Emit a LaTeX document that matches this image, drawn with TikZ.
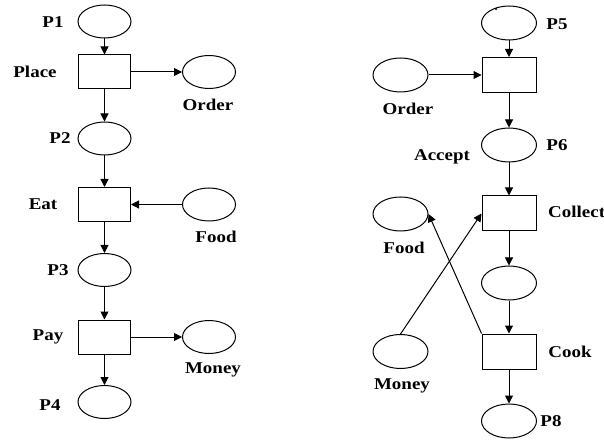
\documentclass[tikz,border=0pt]{standalone}
\usepackage{fontspec}
\setmainfont{Liberation Serif}[FakeStretch=1.15]
\usetikzlibrary{arrows.meta,shapes.geometric}
\tikzset{
  place/.style={draw, ellipse, line width=1pt, minimum width=53pt, minimum height=33pt, inner sep=0pt},
  rplace/.style={place, minimum width=55pt, minimum height=34pt},
  trans/.style={draw, rectangle, line width=1pt, minimum width=52pt, minimum height=34pt, inner sep=0pt},
  rtrans/.style={trans, minimum width=54pt, minimum height=35pt},
  lbl/.style={inner sep=0pt, font=\fontsize{16.5}{18}\selectfont\bfseries},
  arc/.style={line width=1pt, -{Triangle[length=8pt,width=8pt]}},
}
\begin{document}
\begin{tikzpicture}[x=1pt,y=-1pt]
\useasboundingbox (0,0) rectangle (604,443);
% left net
\node[place] (p1) at (104.5,21.5) {};
\node[trans] (place) at (104.5,72) {};
\node[place] (orderL) at (209,72) {};
\node[place] (p2) at (104.5,138.5) {};
\node[trans] (eat) at (104.5,204.5) {};
\node[place] (foodL) at (209,204.5) {};
\node[place] (p3) at (104.5,270) {};
\node[trans] (pay) at (104.5,337) {};
\node[place] (moneyL) at (209,337) {};
\node[place] (p4) at (104.5,402) {};
\node[lbl] (lp1) at (53,22) {P1};
\node[lbl] (lplace) at (35,72) {Place};
\node[lbl] (lorderL) at (208,105) {Order};
\node[lbl] (lp2) at (60,138) {P2};
\node[lbl] (leat) at (43,204) {Eat};
\node[lbl] (lfoodL) at (216,237) {Food};
\node[lbl] (lp3) at (58,270) {P3};
\node[lbl] (lpay) at (48,337) {Pay};
\node[lbl] (lmoneyL) at (213,370) {Money};
\node[lbl] (lp4) at (50,405) {P4};
\draw[arc] (p1) -- (place);
\draw[arc] (place) -- (orderL);
\draw[arc] (place) -- (p2);
\draw[arc] (p2) -- (eat);
\draw[arc] (foodL) -- (eat);
\draw[arc] (eat) -- (p3);
\draw[arc] (p3) -- (pay);
\draw[arc] (pay) -- (moneyL);
\draw[arc] (pay) -- (p4);
% right net
\node[rplace] (p5) at (509,23) {};
\node[rtrans] (accept) at (509,75) {};
\node[rplace] (orderR) at (400.5,75) {};
\node[rplace] (p6) at (509,145) {};
\node[rtrans] (collect) at (509,213.5) {};
\node[rplace] (foodR) at (400.5,214) {};
\node[rplace] (p7) at (509,283) {};
\node[rtrans] (cook) at (509,351.5) {};
\node[rplace] (moneyR) at (400.5,351.5) {};
\node[rplace] (p8) at (509,421) {};
\fill (496,9) circle (1.2pt);
\node[lbl] (lp5) at (557,24) {P5};
\node[lbl] (lorderR) at (408,109) {Order};
\node[lbl] (lp6) at (557,145) {P6};
\node[lbl] (laccept) at (442,157) {Accept};
\node[lbl, anchor=west] (lcollect) at (548,212) {Collect};
\node[lbl] (lfoodR) at (404,248) {Food};
\node[lbl] (lcook) at (570,352) {Cook};
\node[lbl] (lmoneyR) at (402,386) {Money};
\node[lbl] (lp8) at (551,421) {P8};
\draw[arc] (p5) -- (accept);
\draw[arc] (orderR) -- (accept);
\draw[arc] (accept) -- (p6);
\draw[arc] (p6) -- (collect);
\draw[arc] (collect) -- (p7);
\draw[arc] (p7) -- (cook);
\draw[arc] (cook) -- (p8);
\draw[arc] (moneyR.north) -- (collect.west);
\draw[arc] (cook.north west) -- (foodR.east);
\end{tikzpicture}
\end{document}
